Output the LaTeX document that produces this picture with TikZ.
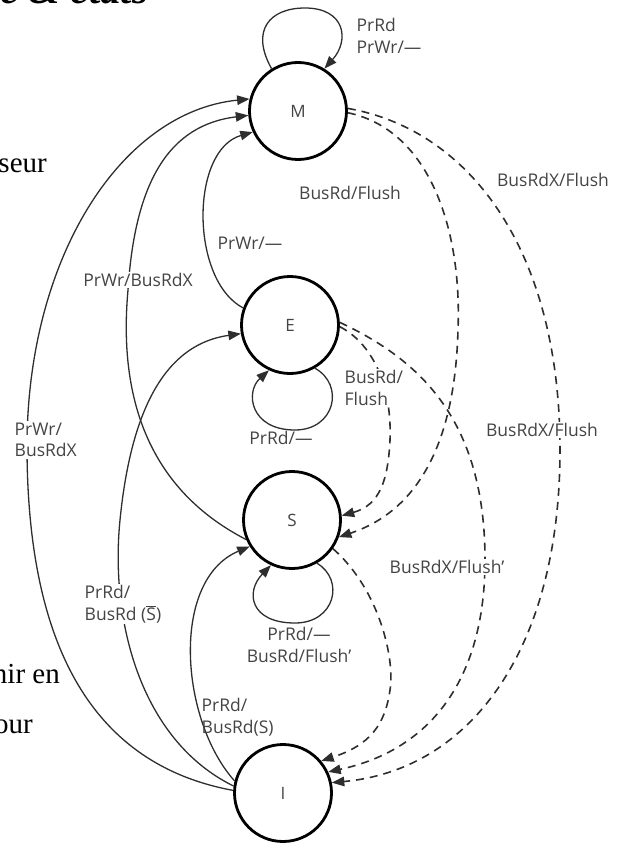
\documentclass[tikz,border=0pt]{standalone}
\usepackage{fontspec}
\setmainfont{Liberation Serif}
\newfontfamily\lblfont{Open Sans}
\usetikzlibrary{arrows.meta}
\definecolor{ink}{HTML}{2E2E2E}
\definecolor{lblgray}{HTML}{444444}
\begin{document}
\begin{tikzpicture}[x=1pt,y=-1pt,
  state/.style={circle,draw=black,line width=2.8pt,minimum size=97pt,inner sep=0pt,
    font=\lblfont\fontsize{17}{20}\selectfont,text=lblgray},
  lbl/.style={font=\lblfont\fontsize{17.5}{21.5}\selectfont,text=lblgray,inner sep=1.5pt},
  cover/.style={lbl,fill=white},
  tr/.style={draw=ink,line width=1.3pt,-{Triangle[length=12.5pt,width=9.5pt]}},
  snoop/.style={tr,line width=1.6pt,dash pattern=on 8pt off 6pt},
  slide/.style={font=\fontsize{29}{34}\selectfont,inner sep=0pt}
]
\useasboundingbox (0,0) rectangle (621,845);
\clip (0,0) rectangle (621,845);

% slide text around the diagram
\node[anchor=base west,inner sep=0pt,font=\bfseries\itshape\fontsize{41}{48}\selectfont] (title) at (0,4) {e \& états};
\node[slide,anchor=base east] (t1) at (47,172) {seur};
\node[slide,anchor=base east] (t2) at (60,683) {nir en};
\node[slide,anchor=base east] (t3) at (33,733) {our};

% states
\node[state] (M) at (298,111) {M};
\node[state] (E) at (290,325) {E};
\node[state] (S) at (292,520) {S};
\node[state] (I) at (283,793) {I};

% processor-initiated transitions
\draw[tr] (I.177) .. controls (95,765) and (28,650) .. (27,450)
                  .. controls (26,260) and (120,112) .. (M.166);
\draw[tr] (S.203) .. controls (150,490) and (118,400) .. (128,290)
                  .. controls (135,180) and (170,125) .. (M.185);
\draw[tr] (E.160) .. controls (190,280) and (190,150) .. (M.205);
\draw[tr] (I.172) .. controls (140,740) and (110,620) .. (120,520)
                  .. controls (130,420) and (160,345) .. (E.190);
\draw[tr] (I.166) .. controls (180,720) and (170,580) .. (S.212);

% self loops
\draw[tr] (M.122) .. controls (250,30) and (270,8) .. (305,8)
                  .. controls (345,8) and (350,40) .. (M.58);
\draw[tr] (E.300) .. controls (345,385) and (335,430) .. (295,430)
                  .. controls (250,430) and (245,392) .. (E.245);
\draw[tr] (S.300) .. controls (345,580) and (335,623) .. (295,623)
                  .. controls (250,623) and (245,592) .. (S.245);

% bus-snooped transitions
\draw[snoop] (M.-2) .. controls (430,130) and (462,230) .. (458,330)
                    .. controls (455,440) and (420,510) .. (S.-20);
\draw[snoop] (M.3) .. controls (470,130) and (560,250) .. (560,450)
                   .. controls (560,650) and (470,770) .. (I.12);
\draw[snoop] (E.3) .. controls (420,360) and (485,420) .. (485,560)
                   .. controls (485,680) and (430,750) .. (I.25);
\draw[snoop] (E.-2) .. controls (375,345) and (392,390) .. (390,440)
                    .. controls (388,480) and (380,505) .. (S.5);
\draw[snoop] (S.-35) .. controls (380,590) and (395,660) .. (390,690)
                     .. controls (385,725) and (370,745) .. (I.40);

% transition labels
\node[lbl,anchor=west,align=left] (lMM) at (355,36) {PrRd\\PrWr/—};
\node[lbl] (lMS) at (350,193) {BusRd/Flush};
\node[lbl] (lMI) at (553,180) {BusRdX/Flush};
\node[lbl] (lEM) at (250,243) {PrWr/—};
\node[cover] (lSM) at (138,280) {PrWr/BusRdX};
\node[cover,anchor=west,align=left] (lIM) at (13,440) {PrWr/\\BusRdX};
\node[lbl] (lEE) at (281,438) {PrRd/—};
\node[cover,anchor=west,align=left] (lES) at (343,388) {BusRd/\\Flush};
\node[cover] (lEI) at (542,430) {BusRdX/Flush};
\node[cover] (lSI) at (447,567) {BusRdX/Flush’};
\node[lbl,align=center] (lSS) at (299,645) {PrRd/—\\BusRd/Flush’};
\node[cover,anchor=west,align=left] (lIE) at (83,604) {PrRd/\\BusRd ($\overline{\mbox{S}}$)};
\node[lbl,anchor=west,align=left] (lIS) at (200,717) {PrRd/\\BusRd(S)};
\end{tikzpicture}
\end{document}
